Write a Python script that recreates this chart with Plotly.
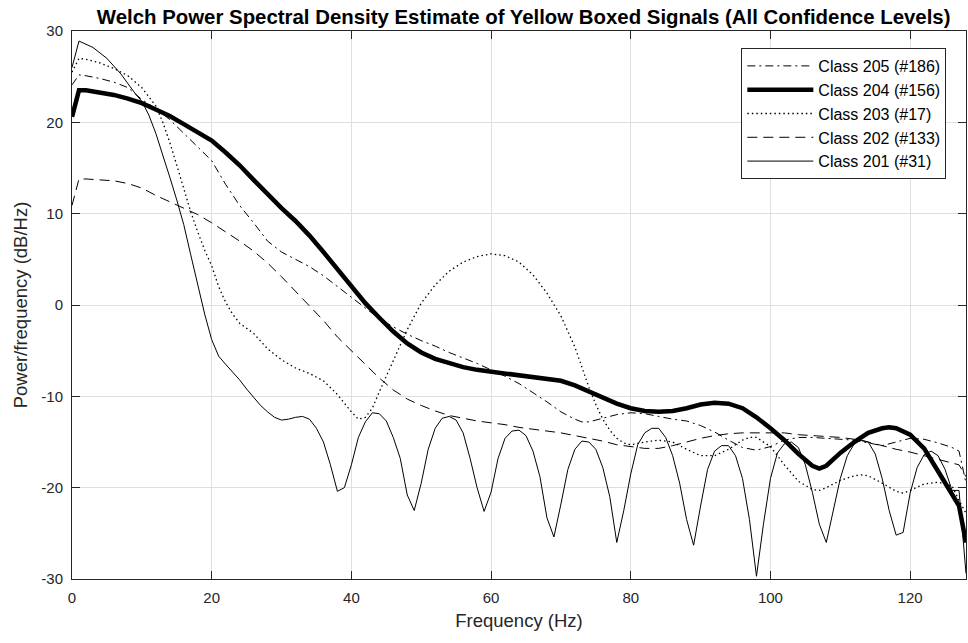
import plotly.graph_objects as go

# ---------------- data ----------------
f201 = [0, 1, 3, 5, 7, 9, 10, 11, 12, 13, 14, 15, 16, 17, 18, 19, 20, 21, 22, 23, 24, 25, 26, 27, 28, 29,
        30, 31, 32, 33, 34, 35, 36, 37, 38, 39, 40, 41, 42, 43, 44, 45, 46, 47, 48, 49, 50, 51, 52, 53,
        54, 55, 56, 57, 58, 59, 60, 61, 62, 63, 64, 65, 66, 67, 68, 69, 70, 71, 72, 73, 74, 75, 76, 77,
        78, 79, 80, 81, 82, 83, 84, 85, 86, 87, 88, 89, 90, 91, 92, 93, 94, 95, 96, 97, 98, 99, 100, 101,
        102, 103, 104, 105, 106, 107, 108, 109, 110, 111, 112, 113, 114, 115, 116, 117, 118, 119, 120,
        121, 122, 123, 124, 125, 126, 127, 128]
p201 = [26.0, 28.9, 28.2, 27.0, 25.3, 23.2, 22.3, 20.8, 18.8, 16.5, 14.0, 11.5, 8.8, 5.5, 2.2, -1.0,
        -3.8, -5.6, -6.5, -7.3, -8.2, -9.2, -10.1, -11.0, -11.7, -12.3, -12.6, -12.5, -12.3, -12.2,
        -12.5, -13.5, -15.0, -17.5, -20.4, -20.0, -17.5, -14.5, -12.8, -11.8, -11.9, -12.7, -14.5,
        -16.8, -20.8, -22.5, -19.5, -15.8, -13.5, -12.4, -12.2, -12.6, -14.0, -16.8, -20.0, -22.6,
        -20.5, -16.8, -14.6, -13.8, -13.7, -14.3, -16.0, -18.8, -23.3, -25.4, -21.8, -18.0, -15.8,
        -14.9, -15.0, -15.8, -17.8, -21.0, -26.0, -22.5, -18.5, -15.3, -14.0, -13.5, -13.5, -14.5,
        -16.5, -19.5, -23.5, -26.3, -22.0, -18.0, -16.0, -15.4, -15.4, -16.5, -19.0, -23.5, -29.7,
        -24.0, -19.0, -16.2, -15.2, -15.0, -15.6, -17.5, -20.5, -24.0, -26.0, -22.5, -19.0, -16.5,
        -15.2, -14.8, -15.0, -16.3, -19.0, -22.5, -25.2, -24.9, -20.6, -17.8, -16.4, -16.0, -16.5,
        -18.0, -20.3, -20.3, -29.4]

f202 = [0, 1, 2, 4, 6, 8, 10, 12, 14, 16, 18, 20, 22, 24, 26, 28, 30, 32, 34, 36, 38, 40, 42, 44, 46,
        48, 50, 52, 54, 56, 58, 60, 62, 64, 66, 68, 70, 72, 74, 76, 78, 80, 82, 84, 86, 88, 90, 92, 94,
        96, 98, 100, 102, 104, 106, 108, 110, 112, 114, 116, 118, 120, 122, 124, 126, 127, 128]
p202 = [10.9, 13.8, 13.8, 13.7, 13.6, 13.3, 12.8, 12.0, 11.3, 10.6, 9.9, 9.0, 8.0, 7.0, 5.9, 4.6, 3.1,
        1.5, -0.1, -1.7, -3.5, -5.0, -6.6, -8.0, -9.3, -10.3, -11.0, -11.6, -12.1, -12.4, -12.7, -12.9,
        -13.1, -13.4, -13.6, -13.8, -14.0, -14.3, -14.6, -14.9, -15.3, -15.5, -15.7, -15.7, -15.4,
        -15.0, -14.6, -14.3, -14.1, -14.0, -14.0, -14.0, -14.0, -14.2, -14.3, -14.4, -14.5, -14.7,
        -15.0, -15.4, -15.8, -16.1, -16.5, -16.9, -17.3, -17.5, -18.8]

f203 = [0, 1, 2, 4, 6, 8, 10, 12, 13, 14, 15, 16, 17, 18, 19, 20, 21, 22, 23, 24, 26, 28, 30, 32, 34,
        36, 38, 40, 41, 42, 43, 44, 46, 48, 50, 52, 54, 56, 58, 60, 62, 64, 66, 68, 70, 72, 74, 75, 76,
        77, 78, 79, 80, 82, 84, 86, 88, 90, 92, 94, 96, 97, 98, 100, 102, 104, 106, 107, 108, 110, 112,
        113, 114, 116, 118, 119, 120, 122, 124, 126, 127, 128]
p203 = [25.5, 27.0, 26.9, 26.5, 25.9, 25.1, 23.8, 21.8, 20.0, 17.8, 15.3, 12.8, 10.2, 8.0, 6.0, 4.3,
        2.0, 0.3, -1.0, -2.0, -3.1, -4.8, -6.0, -6.9, -7.5, -8.3, -9.8, -11.7, -12.5, -12.3, -11.3,
        -9.5, -6.0, -2.7, 0.2, 2.2, 3.7, 4.7, 5.3, 5.6, 5.4, 4.7, 3.3, 1.3, -1.2, -4.6, -9.0, -10.9,
        -12.5, -13.7, -14.6, -15.1, -15.3, -15.0, -14.8, -15.0, -15.8, -16.5, -16.5, -15.8, -14.8,
        -14.5, -14.5, -15.5, -17.5, -19.3, -20.2, -20.3, -20.0, -19.2, -18.7, -18.6, -18.7, -19.5,
        -20.4, -20.6, -20.3, -19.6, -19.4, -19.8, -21.4, -22.8]

f204 = [0, 1, 2, 4, 6, 8, 10, 12, 14, 16, 18, 20, 22, 24, 26, 28, 30, 32, 34, 36, 38, 40, 42, 44, 46,
        48, 50, 52, 54, 56, 58, 60, 62, 64, 66, 68, 70, 72, 74, 76, 78, 80, 82, 84, 86, 88, 90, 92, 93,
        94, 96, 98, 100, 102, 104, 106, 107, 108, 110, 112, 114, 116, 117, 118, 120, 122, 124, 126,
        127, 128]
p204 = [20.6, 23.5, 23.5, 23.3, 23.0, 22.6, 22.1, 21.4, 20.7, 19.8, 18.9, 18.0, 16.7, 15.3, 13.7,
        12.1, 10.6, 9.2, 7.6, 5.8, 3.9, 2.0, 0.2, -1.4, -2.9, -4.2, -5.2, -5.9, -6.4, -6.8, -7.1,
        -7.3, -7.5, -7.7, -7.8, -8.0, -8.3, -8.8, -9.5, -10.2, -10.8, -11.3, -11.6, -11.7, -11.6,
        -11.3, -10.9, -10.7, -10.7, -10.8, -11.3, -12.3, -13.5, -14.8, -16.3, -17.6, -17.9, -17.6,
        -16.2, -15.0, -14.0, -13.5, -13.4, -13.5, -14.2, -15.7, -18.2, -20.8, -22.0, -26.0]

f205 = [0, 1, 2, 4, 6, 8, 10, 12, 14, 16, 18, 20, 22, 24, 26, 28, 30, 32, 34, 36, 38, 40, 42, 44, 46,
        48, 50, 52, 54, 56, 58, 60, 62, 64, 66, 68, 70, 72, 73, 74, 76, 78, 80, 82, 84, 86, 88, 90, 92,
        94, 96, 98, 100, 102, 104, 106, 108, 110, 112, 114, 116, 118, 120, 122, 124, 126, 127, 128]
p205 = [24.1, 25.2, 25.1, 24.8, 24.4, 23.8, 22.5, 21.5, 20.3, 18.8, 17.3, 15.8, 13.2, 10.9, 9.0, 7.0,
        5.8, 5.0, 4.2, 3.2, 2.0, 0.8, -0.4, -1.5, -2.4, -3.2, -3.9, -4.5, -5.2, -5.8, -6.4, -7.1,
        -7.8, -8.6, -9.6, -10.6, -11.7, -12.5, -12.8, -12.8, -12.4, -12.0, -11.8, -11.9, -12.2, -12.5,
        -12.7, -13.2, -13.9, -14.8, -15.6, -15.9, -15.5, -14.8, -14.5, -14.5, -14.6, -14.7, -14.8,
        -15.1, -15.4, -15.0, -14.6, -14.7, -15.1, -15.6, -16.0, -19.5]

series = [
    ("Class 205 (#186)", f205, p205, "8px,4px,2px,4px", 1.0),
    ("Class 204 (#156)", f204, p204, "solid", 4.5),
    ("Class 203 (#17)", f203, p203, "1.5px,3px", 1.3),
    ("Class 202 (#133)", f202, p202, "10px,6px", 1.0),
    ("Class 201 (#31)", f201, p201, "solid", 1.0),
]

x_ticks = [0, 20, 40, 60, 80, 100, 120]
y_ticks = [-30, -20, -10, 0, 10, 20, 30]
y_tick_text = ["-30", "-20", "-10", "0", "10", "20", "30"]

FONT = "Liberation Sans, Arial, sans-serif"
AX = "#262626"

fig = go.Figure()
for name, fx, py, dash, w in series:
    fig.add_trace(go.Scatter(x=fx, y=py, mode="lines", name=name, legendgroup=name,
                             line=dict(color="black", width=w, dash=dash)))

axis_common = dict(
    showline=True, linecolor=AX, linewidth=1, mirror="ticks",
    ticks="inside", ticklen=8, tickcolor=AX, tickwidth=1,
    showgrid=True, gridcolor="#dfdfdf", gridwidth=1, zeroline=False,
    tickfont=dict(family=FONT, size=15, color=AX),
    ticklabelstandoff=5,
)
fig.update_xaxes(range=[0, 128], tickvals=x_ticks, **axis_common,
                 title=dict(text="Frequency (Hz)", font=dict(family=FONT, size=18.5, color=AX), standoff=9))
fig.update_yaxes(range=[-30, 30], tickvals=y_ticks, ticktext=y_tick_text, **axis_common,
                 title=dict(text="Power/frequency (dB/Hz)", font=dict(family=FONT, size=18.5, color=AX), standoff=8))

fig.update_layout(
    width=968, height=643,
    margin=dict(l=72, r=2, t=31, b=64),
    paper_bgcolor="white", plot_bgcolor="white",
    title=dict(text="<b>Welch Power Spectral Density Estimate of Yellow Boxed Signals (All Confidence Levels)</b>",
               font=dict(family=FONT, size=20.4, color="black"), x=0.541, xanchor="center", y=0.985, yanchor="top"),
    legend=dict(x=0.978, xanchor="right", y=0.969, yanchor="top",
                bgcolor="white", bordercolor=AX, borderwidth=1,
                font=dict(family=FONT, size=16, color="black"),
                tracegroupgap=0, itemwidth=66),
    showlegend=True,
)

fig.write_html("out.html")
